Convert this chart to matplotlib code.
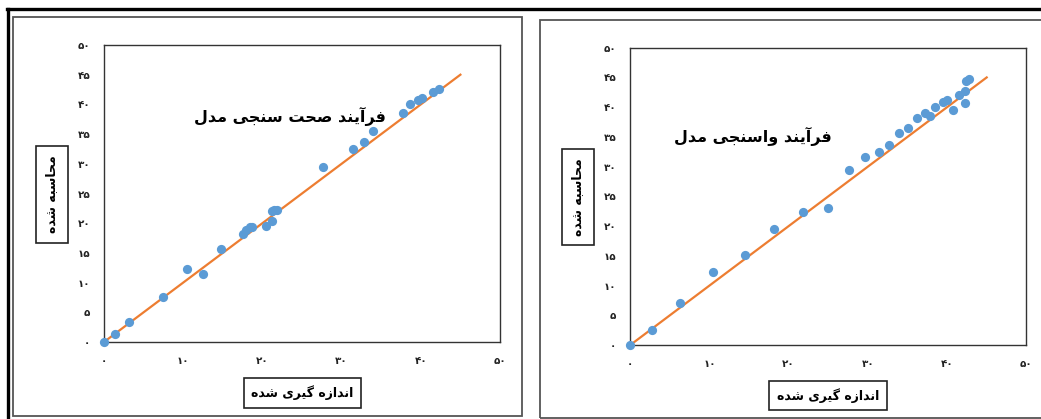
import matplotlib
matplotlib.use("Agg")
import matplotlib.pyplot as plt
from matplotlib.lines import Line2D
from matplotlib.patches import Rectangle

# values
x_ticks = [0, 10, 20, 30, 40, 50]
y_ticks = [0, 5, 10, 15, 20, 25, 30, 35, 40, 45, 50]

# left panel: validation
val_measured = [0.0, 1.4, 3.2, 7.4, 10.5, 12.5, 14.8, 17.6, 17.9, 18.4, 18.7, 20.5,
                21.2, 21.2, 21.5, 21.8, 27.6, 31.4, 32.8, 34.0, 37.8, 38.6, 39.6,
                40.1, 41.5, 42.3]
val_computed = [0.0, 1.3, 3.4, 7.5, 12.3, 11.4, 15.7, 18.1, 18.9, 19.4, 19.4, 19.6,
                20.3, 22.1, 22.2, 22.2, 29.4, 32.5, 33.6, 35.6, 38.5, 40.0, 40.7,
                41.0, 42.1, 42.6]

# right panel: calibration
cal_measured = [0.0, 2.7, 6.3, 10.4, 14.5, 18.2, 21.8, 25.0, 27.6, 29.6, 31.4, 32.7,
                33.9, 35.0, 36.2, 37.2, 37.8, 38.5, 39.5, 40.0, 40.8, 41.5, 42.2,
                42.2, 42.4, 42.8]
cal_computed = [0.0, 2.6, 7.1, 12.3, 15.2, 19.5, 22.3, 23.0, 29.4, 31.7, 32.5, 33.6,
                35.6, 36.5, 38.2, 39.0, 38.5, 40.1, 40.8, 41.2, 39.6, 42.0, 42.7,
                40.7, 44.4, 44.7]

line_x = [0, 45]
line_y = [0, 45]

title_val = "فرآیند صحت سنجی مدل"
title_cal = "فرآیند واسنجی مدل"
xlabel_txt = "اندازه گیری شده"
ylabel_txt = "محاسبه شده"

# matplotlib does no arabic shaping, so pick presentation forms by hand
# (isolated, final, initial, medial); None = letter only joins to the right
FORMS = {
    "آ": ("\uFE81", "\uFE82", None, None),
    "ا": ("\uFE8D", "\uFE8E", None, None),
    "ب": ("\uFE8F", "\uFE90", "\uFE91", "\uFE92"),
    "ت": ("\uFE95", "\uFE96", "\uFE97", "\uFE98"),
    "ج": ("\uFE9D", "\uFE9E", "\uFE9F", "\uFEA0"),
    "ح": ("\uFEA1", "\uFEA2", "\uFEA3", "\uFEA4"),
    "د": ("\uFEA9", "\uFEAA", None, None),
    "ر": ("\uFEAD", "\uFEAE", None, None),
    "ز": ("\uFEAF", "\uFEB0", None, None),
    "س": ("\uFEB1", "\uFEB2", "\uFEB3", "\uFEB4"),
    "ش": ("\uFEB5", "\uFEB6", "\uFEB7", "\uFEB8"),
    "ص": ("\uFEB9", "\uFEBA", "\uFEBB", "\uFEBC"),
    "ف": ("\uFED1", "\uFED2", "\uFED3", "\uFED4"),
    "ل": ("\uFEDD", "\uFEDE", "\uFEDF", "\uFEE0"),
    "م": ("\uFEE1", "\uFEE2", "\uFEE3", "\uFEE4"),
    "ن": ("\uFEE5", "\uFEE6", "\uFEE7", "\uFEE8"),
    "ه": ("\uFEE9", "\uFEEA", "\uFEEB", "\uFEEC"),
    "و": ("\uFEED", "\uFEEE", None, None),
    "ی": ("\uFBFC", "\uFBFD", "\uFBFE", "\uFBFF"),
    "گ": ("\uFB92", "\uFB93", "\uFB94", "\uFB95"),
}


def rtl(s):
    out = []
    for i, c in enumerate(s):
        if c not in FORMS:
            out.append(c)
            continue
        prev = s[i - 1] if i > 0 else ""
        nxt = s[i + 1] if i + 1 < len(s) else ""
        join_prev = prev in FORMS and FORMS[prev][2] is not None
        join_next = nxt in FORMS and FORMS[c][2] is not None
        iso, fin, ini, med = FORMS[c]
        if join_prev and join_next:
            out.append(med)
        elif join_prev:
            out.append(fin)
        elif join_next:
            out.append(ini)
        else:
            out.append(iso)
    return "".join(reversed(out))


def fa_num(v):
    return str(v).translate(str.maketrans("0123456789", "۰۱۲۳۴۵۶۷۸۹"))


W, H = 1041, 419
fig = plt.figure(figsize=(W / 100, H / 100), dpi=100)
plt.rcParams["font.family"] = ["DejaVu Sans"]


def px(x, y):
    return x / W, 1 - y / H


# outer frames
fig.add_artist(Line2D([px(7, 0)[0], 1], [px(0, 9)[1]] * 2, color="black", lw=2.4))
fig.add_artist(Line2D([px(8, 0)[0]] * 2, [px(0, 9)[1], 0], color="black", lw=2.4))
x0, y0 = px(13, 416)
x1, y1 = px(521.5, 17)
fig.add_artist(Rectangle((x0, y0), x1 - x0, y1 - y0, fill=False, ec="#555555", lw=1.3))
x0, y0 = px(539.5, 418)
x1, y1 = px(1045, 19.5)
fig.add_artist(Rectangle((x0, y0), x1 - x0, y1 - y0, fill=False, ec="#555555", lw=1.3))

panels = [
    (104, 45, 500, 342, val_measured, val_computed, title_val, (23.5, 38.0),
     (302.5, 393), (52, 194.5)),
    (630.3, 47.7, 1026.3, 345, cal_measured, cal_computed, title_cal, (15.5, 35.0),
     (828, 395.5), (578, 197)),
]

for (l, t, r, b, xs, ys, title, tpos, xlpos, ylpos) in panels:
    fl, fb = px(l, b)
    fr, ft = px(r, t)
    ax = fig.add_axes([fl, fb, fr - fl, ft - fb])
    ax.set_xlim(0, 50)
    ax.set_ylim(0, 50)
    ax.plot(line_x, line_y, color="#ED7D31", lw=1.6, zorder=2)
    ax.scatter(xs, ys, s=44, color="#5B9BD5", zorder=3, clip_on=False, linewidths=0)
    ax.set_xticks(x_ticks)
    ax.set_xticklabels([fa_num(v) for v in x_ticks])
    ax.set_yticks(y_ticks)
    ax.set_yticklabels([fa_num(v) for v in y_ticks])
    ax.tick_params(length=0, labelsize=7.5, colors="#222222")
    ax.tick_params(axis="x", pad=10)
    ax.tick_params(axis="y", pad=10)
    for lab in ax.get_xticklabels() + ax.get_yticklabels():
        lab.set_fontweight("bold")
    for sp in ax.spines.values():
        sp.set_color("#333333")
        sp.set_linewidth(1.0)
    ax.text(tpos[0], tpos[1], rtl(title), ha="center", va="center",
            fontsize=11.5, fontweight="bold")
    fx, fy = px(*xlpos)
    fig.text(fx, fy, rtl(xlabel_txt), ha="center", va="center", fontsize=9,
             fontweight="bold",
             bbox=dict(boxstyle="square,pad=0.6", fc="white", ec="#222222", lw=1.2))
    fx, fy = px(*ylpos)
    fig.text(fx, fy, rtl(ylabel_txt), ha="center", va="center", fontsize=9,
             fontweight="bold", rotation=90,
             bbox=dict(boxstyle="square,pad=0.75", fc="white", ec="#222222", lw=1.2))

fig.savefig("out.png", dpi=100)
